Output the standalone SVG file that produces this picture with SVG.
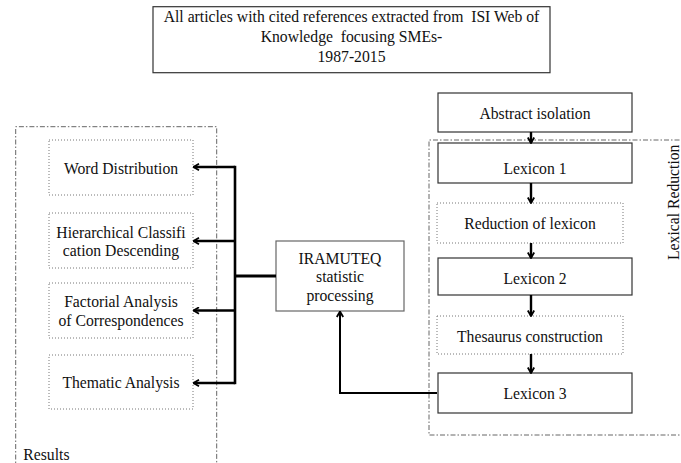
<svg xmlns="http://www.w3.org/2000/svg" width="681" height="463" viewBox="0 0 681 463" font-family="'Liberation Serif', 'DejaVu Serif', serif">
<defs>
<style>
text{font-family:'Liberation Serif','DejaVu Serif',serif;font-size:15.7px;fill:#111;text-anchor:middle;white-space:pre}
.solid{fill:#fff;stroke:#333;stroke-width:1.2}
.gray{fill:#fff;stroke:#666;stroke-width:1.2}
.dot{fill:none;stroke:#777;stroke-width:1;stroke-dasharray:1 2}
.cont{fill:none;stroke:#666;stroke-width:1;stroke-dasharray:5 2 1.5 2}
.ln{fill:none;stroke:#000;stroke-width:2.4}
</style>
<marker id="ah" viewBox="0 0 8 8" refX="7" refY="4" markerWidth="8" markerHeight="8" markerUnits="userSpaceOnUse" orient="auto">
<path d="M1.5,0.8 L7,4 L1.5,7.2" fill="none" stroke="#000" stroke-width="1.8"/>
</marker>
</defs>

<g id="top">
<rect x="153" y="6.7" width="397" height="66" class="solid"/>
<text x="351.5" y="22">All articles with cited references extracted from  ISI Web of</text>
<text x="351.5" y="42">Knowledge  focusing SMEs-</text>
<text x="351.5" y="62">1987-2015</text>
</g>

<g id="results-group">
<path d="M15.7,470 V126.7 H216.7 V470" class="cont"/>
<text x="23.3" y="460" style="text-anchor:start">Results</text>
</g>

<g id="word-distribution">
<rect x="49" y="140" width="144" height="55" class="dot"/>
<text x="121" y="173.5">Word Distribution</text>
</g>
<g id="hierarchical">
<rect x="49" y="213" width="144" height="55" class="dot"/>
<text x="121" y="237.5">Hierarchical Classifi</text>
<text x="121" y="256">cation Descending</text>
</g>
<g id="factorial">
<rect x="49" y="283" width="144" height="55" class="dot"/>
<text x="121" y="307">Factorial Analysis</text>
<text x="121" y="325.5">of Correspondences</text>
</g>
<g id="thematic">
<rect x="49" y="355" width="144" height="54" class="dot"/>
<text x="121" y="388">Thematic Analysis</text>
</g>

<g id="iramuteq">
<rect x="276" y="241" width="128" height="70" class="gray"/>
<text x="340" y="264">IRAMUTEQ</text>
<text x="340" y="282">statistic</text>
<text x="340" y="300.5">processing</text>
</g>

<g id="lexical-reduction-group">
<path d="M690,140 H429 V435 H690" class="cont"/>
<text transform="translate(679,260) rotate(-90)" style="text-anchor:start">Lexical Reduction</text>
</g>

<g id="abstract-isolation">
<rect x="438" y="93" width="194" height="39" class="solid"/>
<text x="535" y="118.5">Abstract isolation</text>
</g>
<g id="lexicon1">
<rect x="438" y="143" width="194" height="40" class="solid"/>
<text x="535" y="174">Lexicon 1</text>
</g>
<g id="reduction">
<rect x="437" y="203" width="186" height="40" class="dot"/>
<text x="530" y="229">Reduction of lexicon</text>
</g>
<g id="lexicon2">
<rect x="438" y="258" width="194" height="37" class="solid"/>
<text x="535" y="283.5">Lexicon 2</text>
</g>
<g id="thesaurus">
<rect x="437" y="316" width="186" height="38" class="dot"/>
<text x="530" y="342">Thesaurus construction</text>
</g>
<g id="lexicon3">
<rect x="438" y="373" width="194" height="40" class="solid"/>
<text x="535" y="399">Lexicon 3</text>
</g>

<g id="connectors">
<path d="M531,132 V143" class="ln" marker-end="url(#ah)"/>
<path d="M531,183 V203" class="ln" marker-end="url(#ah)"/>
<path d="M531,243 V258" class="ln" marker-end="url(#ah)"/>
<path d="M531,295 V316" class="ln" marker-end="url(#ah)"/>
<path d="M531,354 V373" class="ln" marker-end="url(#ah)"/>
<path d="M437,393 H340 V311.5" class="ln" style="stroke-width:2" marker-end="url(#ah)"/>
<path d="M276,276 H235" class="ln" style="stroke-width:3.2"/>
<path d="M235,165.8 V384.2" class="ln" style="stroke-width:2.6"/>
<path d="M235,167 H193.5" class="ln" marker-end="url(#ah)"/>
<path d="M235,241 H193.5" class="ln" marker-end="url(#ah)"/>
<path d="M235,310.5 H193.5" class="ln" marker-end="url(#ah)"/>
<path d="M235,383 H193.5" class="ln" marker-end="url(#ah)"/>
</g>
</svg>
